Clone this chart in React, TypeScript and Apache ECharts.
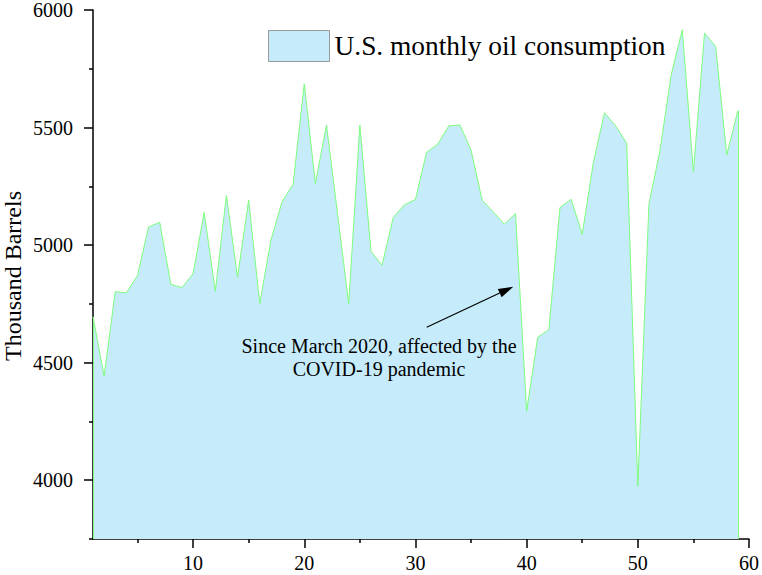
import React, { useEffect, useRef } from "react";
import * as echarts from "echarts";

const months = [
  1, 2, 3, 4, 5, 6, 7, 8, 9, 10, 11, 12, 13, 14, 15, 16, 17, 18, 19, 20,
  21, 22, 23, 24, 25, 26, 27, 28, 29, 30, 31, 32, 33, 34, 35, 36, 37, 38, 39, 40,
  41, 42, 43, 44, 45, 46, 47, 48, 49, 50, 51, 52, 53, 54, 55, 56, 57, 58, 59,
];

const consumption = [
  4695, 4442, 4802, 4797, 4870, 5077, 5097, 4833, 4819, 4878,
  5139, 4803, 5211, 4864, 5191, 4751, 5020, 5184, 5259, 5686,
  5262, 5510, 5130, 4751, 5511, 4974, 4914, 5117, 5171, 5194,
  5394, 5429, 5507, 5511, 5404, 5191, 5141, 5089, 5134, 4293,
  4608, 4641, 5160, 5195, 5046, 5350, 5563, 5507, 5433, 3974,
  5174, 5404, 5724, 5916, 5312, 5902, 5845, 5383, 5572,
];

const xMajorTicks = [10, 20, 30, 40, 50, 60];
const xMinorTicks = [5, 15, 25, 35, 45, 55];
const yMajorTicks = [4000, 4500, 5000, 5500, 6000];
const yMinorTicks = [3750, 4250, 4750, 5250, 5750];

const seriesName = "U.S. monthly oil consumption";
const yAxisTitle = "Thousand Barrels";
const annotationText = "Since March 2020, affected by the\nCOVID-19 pandemic";

const X_MIN = 1;
const X_MAX = 60;
const Y_MIN = 3750;
const Y_MAX = 6000;

const FONT = '"Liberation Serif", "Times New Roman", serif';
const FILL = "#c6ecfb";
const STROKE = "#7dfc7d";

export default function App() {
  const ref = useRef<HTMLDivElement>(null);

  useEffect(() => {
    if (!ref.current) return;
    const chart = echarts.init(ref.current, undefined, { renderer: "svg" });

    const data = months.map((m, i) => [m, consumption[i]]);
    const last = months.length - 1;

    // arrow geometry
    const tail = [426.7, 327.3];
    const tip = [513.3, 286.7];
    const dx = tip[0] - tail[0];
    const dy = tip[1] - tail[1];
    const len = Math.sqrt(dx * dx + dy * dy);
    const ux = dx / len;
    const uy = dy / len;
    const headLen = 15;
    const headHalf = 4.5;
    const bx = tip[0] - ux * headLen;
    const by = tip[1] - uy * headLen;
    const px = -uy;
    const py = ux;

    const axisText = {
      color: "#000",
      fontFamily: FONT,
      fontSize: 20,
      formatter: (v: number) => String(v),
    };

    const option: any = {
      animation: false,
      backgroundColor: "#fff",
      grid: {
        left: 93,
        top: 10,
        right: 13,
        bottom: 36,
        containLabel: false,
        outerBoundsMode: "none",
      },
      legend: {
        show: true,
        left: 268,
        top: 30,
        padding: 0,
        itemWidth: 61,
        itemHeight: 31,
        textStyle: { color: "#000", fontFamily: FONT, fontSize: 27.4 },
        data: [
          {
            name: seriesName,
            icon: "rect",
            itemStyle: { color: FILL, borderColor: "#999", borderWidth: 1 },
          },
        ],
      },
      xAxis: [
        {
          type: "value",
          min: X_MIN,
          max: X_MAX,
          splitLine: { show: false },
          axisLine: { show: true, lineStyle: { color: "#000", width: 1.5 } },
          axisTick: {
            show: true,
            length: 9,
            inside: false,
            customValues: xMajorTicks,
            lineStyle: { color: "#000", width: 1.5 },
          },
          axisLabel: { ...axisText, margin: 14, customValues: xMajorTicks },
        },
        {
          type: "value",
          min: X_MIN,
          max: X_MAX,
          position: "bottom",
          splitLine: { show: false },
          axisLine: { show: false },
          axisTick: {
            show: true,
            length: 4,
            customValues: xMinorTicks,
            lineStyle: { color: "#000", width: 1.5 },
          },
          axisLabel: { show: false },
        },
      ],
      yAxis: [
        {
          type: "value",
          min: Y_MIN,
          max: Y_MAX,
          splitLine: { show: false },
          axisLine: { show: true, lineStyle: { color: "#000", width: 1.5 } },
          axisTick: {
            show: true,
            length: 9,
            customValues: yMajorTicks,
            lineStyle: { color: "#000", width: 1.5 },
          },
          axisLabel: { ...axisText, margin: 20, customValues: yMajorTicks },
        },
        {
          type: "value",
          min: Y_MIN,
          max: Y_MAX,
          position: "left",
          splitLine: { show: false },
          axisLine: { show: false },
          axisTick: {
            show: true,
            length: 4,
            customValues: yMinorTicks,
            lineStyle: { color: "#000", width: 1.5 },
          },
          axisLabel: { show: false },
        },
      ],
      series: [
        {
          name: seriesName,
          type: "line",
          xAxisIndex: 0,
          yAxisIndex: 0,
          data,
          showSymbol: false,
          symbol: "none",
          z: 1,
          lineStyle: { color: STROKE, width: 1 },
          itemStyle: { color: FILL },
          areaStyle: { color: FILL, opacity: 1 },
          markLine: {
            silent: true,
            symbol: "none",
            label: { show: false },
            lineStyle: { color: STROKE, width: 1, type: "solid" },
            data: [
              [
                { coord: [months[0], Y_MIN] },
                { coord: [months[0], consumption[0]] },
              ],
              [
                { coord: [months[last], Y_MIN] },
                { coord: [months[last], consumption[last]] },
              ],
            ],
          },
        },
      ],
      graphic: [
        {
          type: "text",
          z: 100,
          x: 13,
          y: 276,
          rotation: Math.PI / 2,
          style: {
            text: yAxisTitle,
            fill: "#000",
            font: `24px ${FONT}`,
            fontSize: 24,
            fontFamily: FONT,
            textAlign: "center",
            textVerticalAlign: "middle",
          },
        },
        {
          type: "line",
          z: 100,
          shape: { x1: tail[0], y1: tail[1], x2: bx, y2: by },
          style: { stroke: "#000", lineWidth: 1.2 },
        },
        {
          type: "polygon",
          z: 100,
          shape: {
            points: [
              [tip[0], tip[1]],
              [bx + px * headHalf, by + py * headHalf],
              [bx - px * headHalf, by - py * headHalf],
            ],
          },
          style: { fill: "#000" },
        },
        {
          type: "text",
          z: 100,
          x: 379,
          y: 334,
          style: {
            text: annotationText,
            fill: "#000",
            font: `20px ${FONT}`,
            fontSize: 20,
            fontFamily: FONT,
            textAlign: "center",
            textVerticalAlign: "top",
            lineHeight: 23,
          },
        },
      ],
    };

    chart.setOption(option);
    return () => {
      chart.dispose();
    };
  }, []);

  return (
    <div
      ref={ref}
      style={{ position: "fixed", left: 0, top: 0, width: 762, height: 575 }}
    />
  );
}
